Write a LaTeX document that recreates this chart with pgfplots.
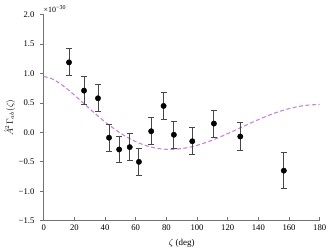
\documentclass[border=0pt]{standalone}
\usepackage{pgfplots}
\pgfplotsset{compat=1.18}
\usepackage{fontspec}
\setmainfont{Liberation Serif}
\definecolor{hdcol}{RGB}{200,130,215}
\definecolor{axgray}{RGB}{115,115,115}
\begin{document}
\begin{tikzpicture}
\useasboundingbox (-43.7bp,-31.3bp) rectangle (288.3bp,220.7bp);
\begin{axis}[
  at={(0,0)}, anchor=south west,
  scale only axis,
  width=276bp, height=206bp,
  xmin=0, xmax=180, ymin=-1.5, ymax=2.0,
  axis lines=left,
  axis line style={axgray, line width=0.8pt, -},
  tick align=outside,
  major tick length=3.5bp,
  xtick style={axgray, line width=0.7pt, yshift=3.5bp},
  ytick style={axgray, line width=0.7pt},
  xtick={0,20,...,180},
  ytick={-1.5,-1,-0.5,0,0.5,1,1.5,2},
  yticklabels={−1.5,−1.0,−0.5,0.0,0.5,1.0,1.5,2.0},
  xticklabels={0,20,40,60,80,100,120,140,160,180},
  tick label style={font=\fontsize{8.7}{10}\selectfont},
  yticklabel style={xshift=-2.3bp},
  xticklabel style={yshift=2.5bp},
  every axis x label/.style={at={(axis description cs:0.5,0)}, anchor=base, yshift=-24.5bp, font=\fontsize{9}{10}\selectfont},
  every axis y label/.style={at={(axis description cs:0,0.5)}, anchor=center, xshift=-34bp, rotate=90, font=\fontsize{9}{10}\selectfont},
  xlabel={$\zeta$ (deg)},
  ylabel={$\hat{A}^2\Gamma_{ab}(\zeta)$},
  clip=false,
]
\addplot[hdcol, dash pattern=on 4bp off 2.5bp, line width=1.1pt, smooth] coordinates {
(0,0.95) (5,0.915) (10,0.841) (15,0.745) (20,0.635) (25,0.519) (30,0.402) (35,0.288) (40,0.179)
(45,0.080) (50,-0.0117) (55,-0.090) (60,-0.1565) (65,-0.210) (70,-0.2486) (75,-0.275) (80,-0.2871)
(85,-0.287) (90,-0.2753) (95,-0.253) (100,-0.2202) (110,-0.1318) (120,-0.0212) (130,0.0992)
(140,0.2174) (150,0.3225) (160,0.4046) (170,0.4570) (180,0.475)
};
\addplot[only marks, mark=*, mark size=2.7bp, black,
  error bars/.cd, y dir=both, y explicit,
  error bar style={black!72, line width=0.9pt},
  error mark options={black!72, line width=0.9pt, rotate=90, mark size=3bp}]
coordinates {
(16.5,1.19) +- (0,0.23)
(26.3,0.71) +- (0,0.235)
(35.4,0.58) +- (0,0.23)
(42.6,-0.09) +- (0,0.23)
(49.2,-0.29) +- (0,0.225)
(56.1,-0.25) +- (0,0.225)
(62.1,-0.50) +- (0,0.23)
(70.1,0.02) +- (0,0.23)
(78.2,0.45) +- (0,0.23)
(84.9,-0.04) +- (0,0.23)
(96.9,-0.15) +- (0,0.23)
(111.0,0.15) +- (0,0.23)
(128.2,-0.07) +- (0,0.235)
(156.6,-0.65) +- (0,0.31)
};
\node[anchor=base west, font=\fontsize{8}{9}\selectfont, inner sep=0pt, outer sep=0pt] at (rel axis cs:0,1) [yshift=2bp] {×10\textsuperscript{−30}};
\end{axis}
\end{tikzpicture}
\end{document}
